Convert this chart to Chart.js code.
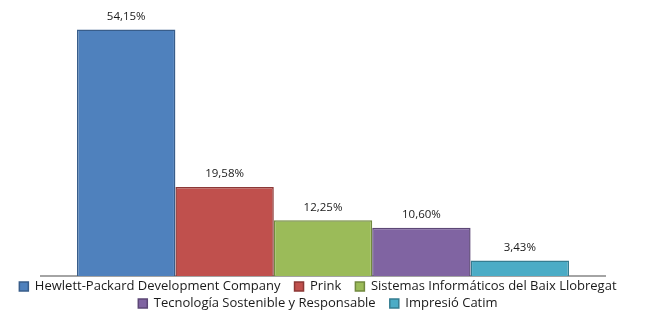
<!DOCTYPE html>
<html>
<head>
<meta charset="utf-8">
<script src="https://cdn.jsdelivr.net/npm/chart.js@4"></script>
<style>
  html, body { margin: 0; padding: 0; background: #fff; }
  #wrap { width: 656px; height: 318px; }
</style>
</head>
<body>
<div id="wrap"><canvas id="myChart" width="656" height="318"></canvas></div>
<script>
// companies and their share (%)
const companies = [
  "Hewlett-Packard Development Company",
  "Prink",
  "Sistemas Informáticos del Baix Llobregat",
  "Tecnología Sostenible y Responsable",
  "Impresió Catim"
];
const shares = [54.15, 19.58, 12.25, 10.60, 3.43];
const fills = ["#4F81BD", "#C0504D", "#9BBB59", "#8064A2", "#4BACC6"];
const borders = ["#385D8A", "#8C3836", "#71893F", "#5C4776", "#357D91"];

// x axis line + the value over each bar
const valueLabels = {
  id: "valueLabels",
  beforeDatasetsDraw(chart) {
    const ctx = chart.ctx;
    const area = chart.chartArea;
    const y0 = chart.scales.y.getPixelForValue(0);
    ctx.save();
    ctx.strokeStyle = "#868686";
    ctx.lineWidth = 1.5;
    ctx.beginPath();
    ctx.moveTo(area.left + 40, y0);
    ctx.lineTo(area.right - 40, y0);
    ctx.stroke();
    ctx.restore();
  },
  afterDatasetsDraw(chart) {
    const ctx = chart.ctx;
    ctx.save();
    ctx.font = "11.5px 'Open Sans', sans-serif";
    ctx.fillStyle = "#1a1a1a";
    ctx.textAlign = "center";
    ctx.textBaseline = "middle";
    chart.data.datasets.forEach((ds, i) => {
      const bar = chart.getDatasetMeta(i).data[0];
      const txt = ds.data[0].toFixed(2).replace(".", ",") + "%";
      ctx.fillText(txt, bar.x, bar.y - 13);
    });
    ctx.restore();
  }
};

const ctx = document.getElementById("myChart").getContext("2d");
const chart = new Chart(ctx, {
  type: "bar",
  data: {
    labels: [""],
    datasets: companies.map((name, i) => ({
      label: name,
      data: [shares[i]],
      backgroundColor: fills[i],
      borderColor: borders[i],
      borderWidth: 1.5,
      borderSkipped: "bottom"
    }))
  },
  options: {
    responsive: false,
    animation: false,
    layout: { padding: { left: 0, right: 10, top: 3, bottom: -2 } },
    datasets: { bar: { categoryPercentage: 0.7616, barPercentage: 1 } },
    scales: {
      x: { display: false },
      y: { display: false, min: 0, max: 60 }
    },
    plugins: {
      tooltip: { enabled: false },
      legend: {
        position: "bottom",
        labels: {
          font: { family: "'Open Sans', sans-serif", size: 13 },
          color: "#1a1a1a",
          boxWidth: 9,
          boxHeight: 9,
          padding: 4,
          // a bit more room between items, like the original legend
          generateLabels(chart) {
            return Chart.defaults.plugins.legend.labels.generateLabels(chart)
              .map(item => ({ ...item, text: item.text + "\u00a0\u00a0\u00a0" }));
          }
        }
      }
    }
  },
  plugins: [valueLabels]
});
</script>
</body>
</html>
